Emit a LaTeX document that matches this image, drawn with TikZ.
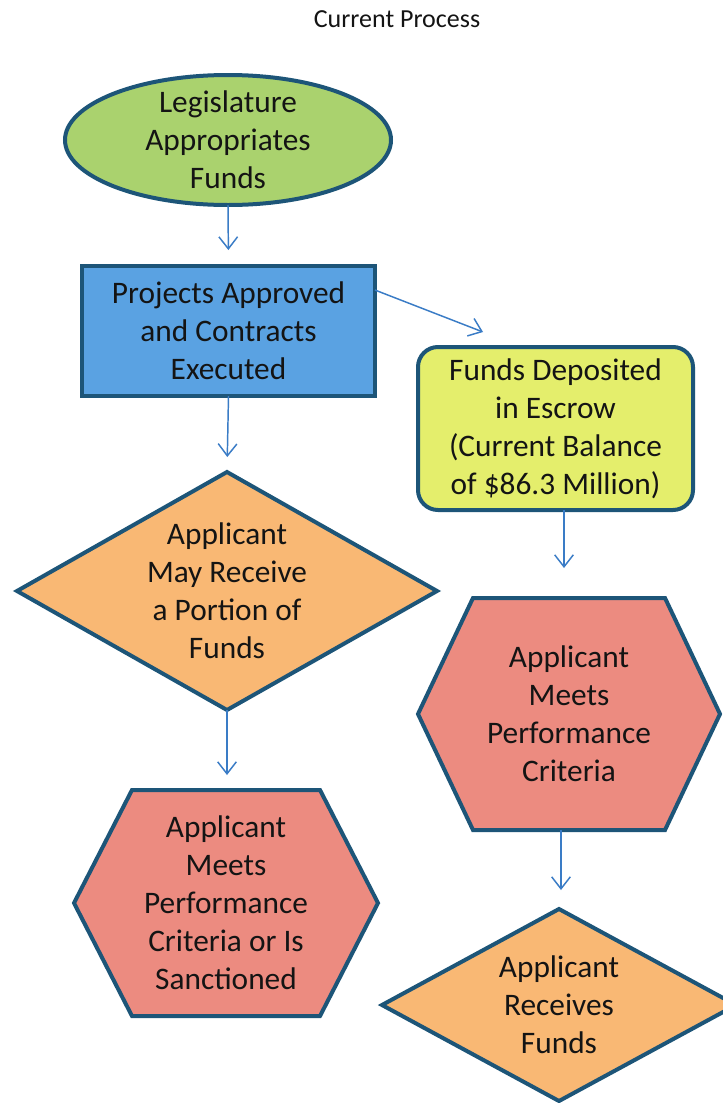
\documentclass[tikz,border=0pt]{standalone}
\usepackage{fontspec}
\setmainfont{Carlito}
\usetikzlibrary{shapes.geometric,arrows.meta,calc}
\definecolor{bord}{HTML}{1D5578}
\definecolor{arrc}{HTML}{3A7CC6}
\definecolor{txtc}{HTML}{141414}
\definecolor{greenf}{HTML}{AAD26E}
\definecolor{bluef}{HTML}{5AA2E2}
\definecolor{yellf}{HTML}{E4EE6C}
\definecolor{oranf}{HTML}{F9B874}
\definecolor{redf}{HTML}{EC8B80}
\begin{document}
\begin{tikzpicture}[x=0.75pt,y=-0.75pt,
  lbl/.style={font=\fontsize{23.5}{28.5}\selectfont, text=txtc, align=center, inner sep=0pt},
  shp/.style={draw=bord, line width=3pt, inner sep=0pt, outer sep=0pt},
  ghost/.style={inner sep=0pt, outer sep=0pt, draw=none},
  arr/.style={draw=arrc, line width=1.1pt, -{Straight Barb[length=9pt,width=14pt,line width=1.1pt]}},
  title/.style={font=\fontsize{19.5}{23}\selectfont, text=txtc, inner sep=0pt}
]
\useasboundingbox (0,0) rectangle (723,1103);
\fill[white] (0,0) rectangle (723,1103);

% title
\node[title, anchor=base] (ttl) at (397,27) {Current Process};

% shapes
\node[shp, ellipse, fill=greenf, minimum width=326*0.75pt, minimum height=130*0.75pt] (leg) at (228,140) {};
\node[lbl] at (leg) {Legislature\\Appropriates\\Funds};

\node[shp, rectangle, fill=bluef, minimum width=293*0.75pt, minimum height=130*0.75pt] (proj) at (228.5,331) {};
\node[lbl] at (proj) {Projects Approved\\and Contracts\\Executed};

\node[shp, rectangle, rounded corners=15pt, fill=yellf, minimum width=275*0.75pt, minimum height=163*0.75pt] (esc) at (555.5,428.5) {};
\node[lbl] at (esc) {Funds Deposited\\in Escrow\\(Current Balance\\of \$86.3 Million)};

\node[shp, diamond, fill=oranf, minimum width=420*0.75pt, minimum height=238*0.75pt] (may) at (227,591) {};
\node[lbl] at (may) {Applicant\\May Receive\\a Portion of\\Funds};

\node[ghost, minimum width=304*0.75pt, minimum height=226*0.75pt] (hexl) at (226,903) {};
\draw[shp, fill=redf, line join=miter] ($(hexl.north)+(-94,0)$) -- ($(hexl.north)+(94,0)$) -- (hexl.east)
   -- ($(hexl.south)+(94,0)$) -- ($(hexl.south)+(-94,0)$) -- (hexl.west) -- cycle;
\node[lbl] at (hexl) {Applicant\\Meets\\Performance\\Criteria or Is\\Sanctioned};

\node[ghost, minimum width=302*0.75pt, minimum height=232*0.75pt] (hexr) at (569,714) {};
\draw[shp, fill=redf, line join=miter] ($(hexr.north)+(-96,0)$) -- ($(hexr.north)+(96,0)$) -- (hexr.east)
   -- ($(hexr.south)+(96,0)$) -- ($(hexr.south)+(-96,0)$) -- (hexr.west) -- cycle;
\node[lbl] at (hexr) {Applicant\\Meets\\Performance\\Criteria};

\node[shp, diamond, fill=oranf, minimum width=354*0.75pt, minimum height=192*0.75pt] (rec) at (559,1005) {};
\node[lbl] at (rec) {Applicant\\Receives\\Funds};

% connectors
\coordinate (tipA) at (483,332);
\coordinate (colA) at (564,0);
\coordinate (colB) at (561,0);
\draw[arr, shorten >=12pt] (leg.south) -- (proj.north);
\draw[arr] ($(proj.north east)!0.185!(proj.south east)$) -- (tipA);
\draw[arr, shorten >=11.25pt] (proj.south) -- (may.north);
\draw[arr, shorten >=11.25pt] (may.south) -- (may.south |- hexl.north);
\draw[arr, shorten >=22.5pt] (esc.south -| colA) -- (hexr.north -| colA);
\draw[arr, shorten >=14.25pt] (hexr.south -| colB) -- (rec.north -| colB);
\end{tikzpicture}
\end{document}
